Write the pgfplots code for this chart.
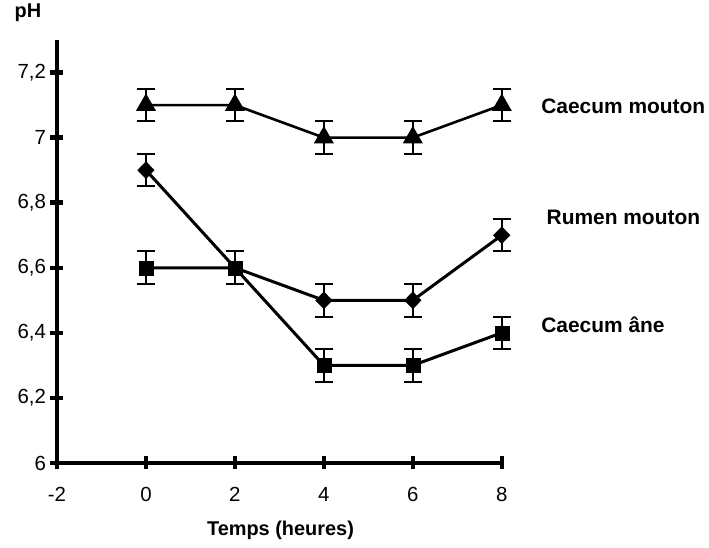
\documentclass[border=0pt]{standalone}
\usepackage{fontspec}
\setmainfont{Liberation Sans}
\usepackage{pgfplots}
\pgfplotsset{compat=1.18}

\begin{document}
\begin{tikzpicture}[x=1bp,y=1bp]
\useasboundingbox (-57,-85) rectangle (652,463);
\begin{axis}[
  scale only axis, width=447bp, height=423bp,
  xmin=-2, xmax=8.05, ymin=6, ymax=7.3,
  clip=false,
  axis x line=bottom, axis y line=left,
  axis line style={-, line width=4bp},
  xtick={-2,0,2,4,6,8},
  xticklabels={-2,0,2,4,6,8},
  ytick={6,6.2,6.4,6.6,6.8,7,7.2},
  yticklabels={6,{6,2},{6,4},{6,6},{6,8},7,{7,2}},
  tick align=center, major tick length=13bp,
  tick style={line width=4.5bp, black},
  ticklabel style={font=\fontsize{20.5}{22}\selectfont},
  xticklabel style={yshift=-14bp},
  yticklabel style={xshift=-1bp},
  xlabel={\bfseries Temps (heures)},
  every axis x label/.style={at={(axis description cs:0.5,0)}, yshift=-67bp, anchor=center,
    font=\fontsize{20}{22}\selectfont},
  ylabel={\bfseries pH},
  every axis y label/.style={at={(axis description cs:0,1)}, xshift=-29bp, yshift=27bp, anchor=center,
    font=\fontsize{20}{22}\selectfont},
  error bars/y dir=both, error bars/y fixed=0.05,
  error bars/error bar style={line width=2bp, black},
  error bars/error mark options={rotate=90, mark size=9bp, line width=2bp, black},
]
% Caecum mouton
\addplot[black, line width=2.6bp, mark=triangle*, mark size=9bp, mark options={solid, fill=black}]
  coordinates {(0,7.1) (2,7.1) (4,7.0) (6,7.0) (8,7.1)};

% connecting lines as drawn
\addplot[black, line width=3bp, no marks, error bars/y dir=none]
  coordinates {(0,6.9) (2,6.6) (4,6.3) (6,6.3) (8,6.4)};
\addplot[black, line width=3bp, no marks, error bars/y dir=none]
  coordinates {(0,6.6) (2,6.6) (4,6.5) (6,6.5) (8,6.7)};

% Rumen mouton markers
\addplot[black, only marks, mark=diamond*, mark size=8.5bp, mark options={solid, fill=black, xscale=1.3}]
  coordinates {(0,6.9) (4,6.5) (6,6.5) (8,6.7)};

% Caecum âne markers
\addplot[black, only marks, mark=square*, mark size=7bp, mark options={solid, fill=black}]
  coordinates {(0,6.6) (2,6.6) (4,6.3) (6,6.3) (8,6.4)};

\node[anchor=west, font=\bfseries\fontsize{21}{24}\selectfont] at (axis cs:8.81,7.095) {Caecum mouton};
\node[anchor=west, font=\bfseries\fontsize{21}{24}\selectfont] at (axis cs:8.93,6.754) {Rumen mouton};
\node[anchor=west, font=\bfseries\fontsize{21}{24}\selectfont] at (axis cs:8.81,6.425) {Caecum âne};
\end{axis}
\end{tikzpicture}
\end{document}
